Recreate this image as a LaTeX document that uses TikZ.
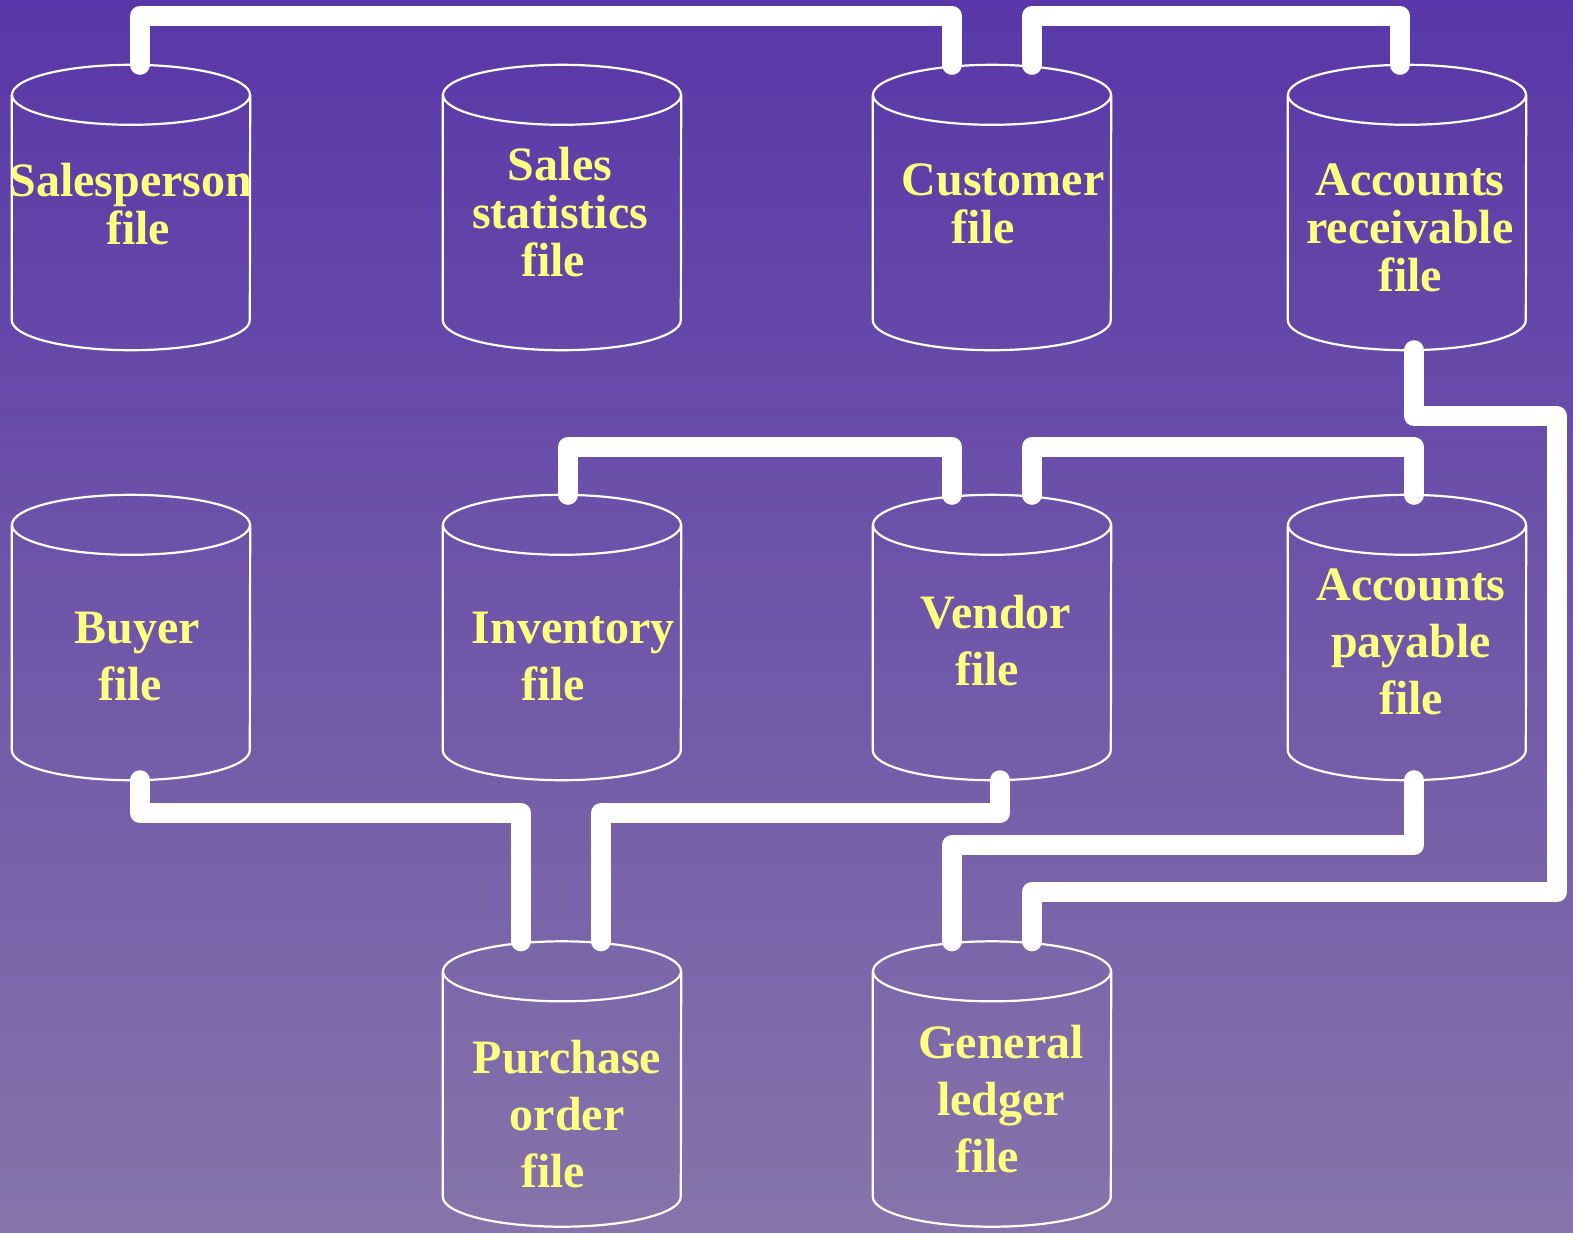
\documentclass[tikz,border=0pt]{standalone}
\usepackage{fontspec}
\setmainfont{Liberation Serif}
\definecolor{bgtop}{RGB}{89,55,168}
\definecolor{bgbot}{RGB}{134,116,170}
\definecolor{lbl}{RGB}{255,255,128}
% outline of a file drum around the named box
\newcommand\drawdrum[1]{%
  \draw[drumline] ([yshift=-30pt]#1.north) ellipse [x radius=119pt, y radius=30pt];
  \draw[drumline] ([yshift=-30pt]#1.north west) -- ([yshift=30pt]#1.south west)
    arc[start angle=180, end angle=360, x radius=119pt, y radius=30pt]
    -- ([yshift=-30pt]#1.north east);
}
\begin{document}
\begin{tikzpicture}[x=1pt,y=-1pt,
  filebox/.style={minimum width=238pt, minimum height=285pt, inner sep=0pt, draw=none},
  lab/.style={text=lbl, font=\fontsize{48}{48}\selectfont\bfseries, align=center, inner sep=0pt},
  labwide/.style={lab, font=\fontsize{48}{57}\selectfont\bfseries},
  pipe/.style={draw=white, line width=20pt, line cap=round, line join=round},
  drumline/.style={draw=white, line width=2.2pt}]
\shade[top color=bgtop, bottom color=bgbot] (0,0) rectangle (1573,1232);
\useasboundingbox (0,0) rectangle (1573,1232);

% file boxes
\node[filebox] (sp) at (131,207.5) {};
\node[filebox] (ss) at (562,207.5) {};
\node[filebox] (cu) at (992,207.5) {};
\node[filebox] (ar) at (1407,207.5) {};
\node[filebox] (bu) at (131,637.5) {};
\node[filebox] (inv) at (562,637.5) {};
\node[filebox] (ve) at (992,637.5) {};
\node[filebox] (ap) at (1407,637.5) {};
\node[filebox] (po) at (562,1084) {};
\node[filebox] (gl) at (992,1084) {};

\foreach \f in {sp,ss,cu,ar,bu,inv,ve,ap,po,gl}{\drawdrum{\f}}

% labels
\node[lab] (spL) at (131,204) {Salesperson\\\hspace*{14pt}file};
\node[lab] (ssL) at (560,212) {Sales\\statistics\\file\hspace*{14pt}};
\node[lab] (cuL) at (1003,204) {Customer\\file\hspace*{40pt}};
\node[lab] (arL) at (1410,228) {Accounts\\receivable\\file};
\node[labwide] (buL) at (137,656) {Buyer\\file\hspace*{14pt}};
\node[labwide] (invL) at (573,656) {Inventory\\file\hspace*{40pt}};
\node[labwide] (veL) at (996,641) {Vendor\\file\hspace*{18pt}};
\node[labwide] (apL) at (1411,642) {Accounts\\payable\\file};
\node[labwide] (poL) at (567,1114) {Purchase\\order\\file\hspace*{28pt}};
\node[labwide] (glL) at (1001,1099) {General\\ledger\hspace*{14pt}\\file\hspace*{28pt}};

% bus levels
\coordinate (busA) at (0,16);
\coordinate (busB) at (0,447);
\coordinate (busD) at (0,813);
\coordinate (busE) at (0,845);
\coordinate (arturn) at (1557,416);
\coordinate (glturn) at (1557,892);

% connections
\draw[pipe] ([xshift=9pt]sp.north) -- ([xshift=9pt]sp.north |- busA) -| ([xshift=-40pt]cu.north);
\draw[pipe] ([xshift=40pt]cu.north) -- ([xshift=40pt]cu.north |- busA) -| ([xshift=-7pt]ar.north);
\draw[pipe] ([xshift=7pt]ar.south) |- (arturn) -- (glturn) -| ([xshift=40pt]gl.north);
\draw[pipe] ([xshift=6pt]inv.north) -- ([xshift=6pt]inv.north |- busB) -| ([xshift=-40pt]ve.north);
\draw[pipe] ([xshift=40pt]ve.north) -- ([xshift=40pt]ve.north |- busB) -| ([xshift=7pt]ap.north);
\draw[pipe] ([xshift=9pt]bu.south) -- ([xshift=9pt]bu.south |- busD) -| ([xshift=-41pt]po.north);
\draw[pipe] ([xshift=8pt]ve.south) -- ([xshift=8pt]ve.south |- busD) -| ([xshift=39pt]po.north);
\draw[pipe] ([xshift=7pt]ap.south) -- ([xshift=7pt]ap.south |- busE) -| ([xshift=-40pt]gl.north);
\end{tikzpicture}
\end{document}
